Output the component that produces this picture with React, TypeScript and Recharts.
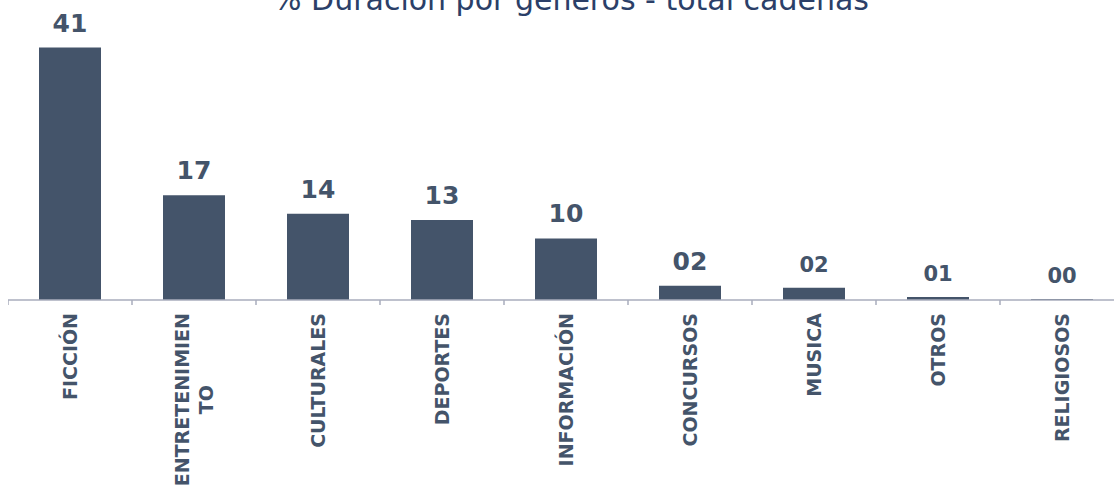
import { BarChart, Bar, XAxis, YAxis, LabelList } from "recharts";

const categories = [
  "FICCIÓN",
  "ENTRETENIMIENTO",
  "CULTURALES",
  "DEPORTES",
  "INFORMACIÓN",
  "CONCURSOS",
  "MUSICA",
  "OTROS",
  "RELIGIOSOS",
];
const duration = [41, 17, 14, 13, 10, 2.3, 2, 0.5, 0.15];

const data = categories.map((name, i) => ({ name, value: duration[i] }));

const CHART_W = 1116;
const HALF_BAND = CHART_W / categories.length / 2;
const BAR_COLOR = "#44546a";
const AXIS_COLOR = "#a9adbc";
const FONT = "'DejaVu Sans', sans-serif";
const TICK_FONT = `bold 19px ${FONT}`;

let ctx: CanvasRenderingContext2D | null = null;
const measure = (s: string) => {
  if (!ctx) ctx = document.createElement("canvas").getContext("2d");
  if (!ctx) return s.length * 13.2;
  ctx.font = TICK_FONT;
  return ctx.measureText(s).width;
};

const CategoryTick = (props: any) => {
  const { x, y, payload } = props;
  const name: string = payload.value;
  // long names wrap like the original (13 chars per line), lines centred
  const lines: string[] = [];
  for (let i = 0; i < name.length; i += 13) lines.push(name.slice(i, i + 13));
  const gap = 24;
  const start = -((lines.length - 1) * gap) / 2;
  const longest = Math.max(...lines.map(measure));
  return (
    <g>
      <line
        x1={x - HALF_BAND}
        x2={x - HALF_BAND}
        y1={y}
        y2={y + 5}
        stroke={AXIS_COLOR}
        strokeWidth={1.5}
      />
      {lines.map((ln, i) => (
        <text
          key={i}
          transform={`translate(${x + start + i * gap},${y + 13 + longest / 2}) rotate(-90)`}
          textAnchor="middle"
          dy="0.36em"
          fill={BAR_COLOR}
          fontFamily={FONT}
          fontWeight="bold"
          fontSize={19}
        >
          {ln}
        </text>
      ))}
    </g>
  );
};

const ValueLabel = (props: any) => {
  const { x, y, width, value, index } = props;
  const txt = String(Math.round(value)).padStart(2, "0");
  return (
    <text
      x={x + width / 2}
      y={y - 16}
      textAnchor="middle"
      fill={BAR_COLOR}
      fontFamily={FONT}
      fontWeight="bold"
      fontSize={index < 6 ? 25 : 21}
    >
      {txt}
    </text>
  );
};

export default function App() {
  return (
    <div
      style={{
        position: "fixed",
        top: 0,
        left: 8,
        width: 1106,
        height: 486,
        overflow: "hidden",
        background: "#fff",
      }}
    >
      <div
        style={{
          position: "absolute",
          top: -15.4,
          left: 0,
          width: 1126,
          textAlign: "center",
          fontFamily: FONT,
          fontSize: 30,
          lineHeight: "30px",
          color: "#2b3f68",
          whiteSpace: "nowrap",
        }}
      >
        % Duración por géneros - total cadenas
      </div>
      <div style={{ position: "absolute", top: 0, left: 0 }}>
        <BarChart
          width={CHART_W}
          height={486}
          data={data}
          margin={{ top: 23, right: 0, bottom: 0, left: 0 }}
          barSize={62}
        >
          <XAxis
            dataKey="name"
            interval={0}
            height={186}
            tickSize={0}
            tickMargin={0}
            tickLine={false}
            axisLine={{ stroke: AXIS_COLOR, strokeWidth: 1.5 }}
            tick={<CategoryTick />}
          />
          <YAxis hide domain={[0, 45]} width={0} />
          <Bar dataKey="value" fill={BAR_COLOR} isAnimationActive={false}>
            <LabelList dataKey="value" content={<ValueLabel />} />
          </Bar>
        </BarChart>
      </div>
    </div>
  );
}
